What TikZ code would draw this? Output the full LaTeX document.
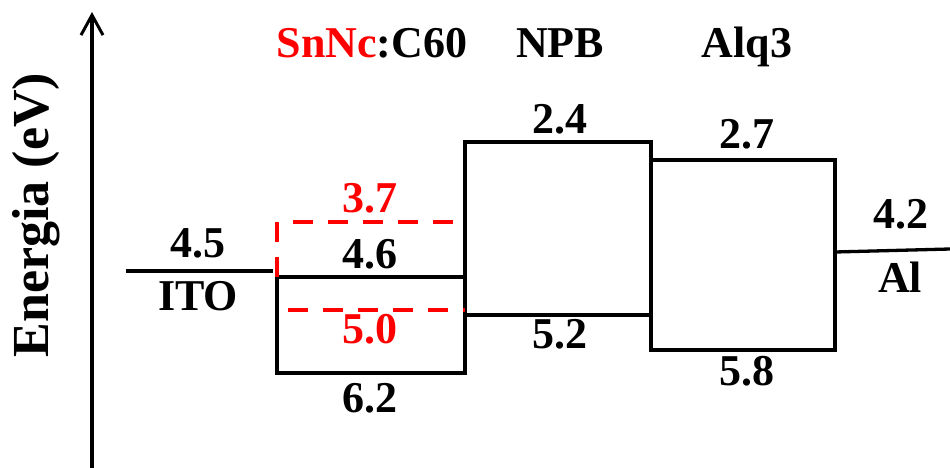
\documentclass[tikz,border=0pt]{standalone}
\usepackage{fontspec}
\setmainfont{Liberation Serif}
\usetikzlibrary{arrows.meta}
\definecolor{lvred}{RGB}{255,0,0}
\tikzset{
  lvl/.style={line width=3.8pt, line join=miter},
  thin lvl/.style={line width=3.3pt},
  redlvl/.style={line width=3.8pt, lvred, dash pattern=on 20pt off 15pt},
  lbl/.style={inner sep=0pt, anchor=base, font=\fontsize{44}{50}\selectfont\bfseries},
  redlbl/.style={lbl, text=lvred},
}
\begin{document}
\begin{tikzpicture}[x=1pt,y=-1pt]
\useasboundingbox (0,0) rectangle (950,468);
% axis
\coordinate (axb) at (92,468);
\coordinate (axt) at (92,12);
\draw[line width=3.2pt, -{Straight Barb[length=20pt,width=22pt,line width=3pt]}] (axb) -- (axt);
\node[inner sep=0pt, anchor=base, rotate=90, font=\fontsize{52}{58}\selectfont\bfseries] (ylab) at (48,215) {Energia (eV)};
% ITO
\coordinate (ito1) at (126,271);
\coordinate (ito2) at (273,271);
\draw[thin lvl] (ito1) -- (ito2);
% SnNc:C60 box
\coordinate (s1) at (277,277);
\coordinate (s2) at (465,373);
\draw[lvl] (s1) rectangle (s2);
% red dashed levels
\coordinate (r1) at (277,222);
\coordinate (r2) at (293,222);
\coordinate (r3) at (465,222);
\coordinate (r4) at (288,310);
\coordinate (r5) at (465,310);
\draw[redlvl] (r1) -- (s1);
\draw[redlvl] (r2) -- (r3);
\draw[redlvl] (r4) -- (r5);
% NPB
\coordinate (n1) at (465,142);
\coordinate (n2) at (651,142);
\coordinate (n3) at (651,160);
\coordinate (n4) at (465,315);
\coordinate (n5) at (651,315);
\draw[lvl] (s2 |- s1) -- (n1) -- (n2) -- (n3);
\draw[lvl] (n4) -- (n5);
% Alq3
\coordinate (a1) at (651,160);
\coordinate (a2) at (835,350);
\draw[lvl] (a1) rectangle (a2);
% Al
\coordinate (al1) at (835,252);
\coordinate (al2) at (950,249);
\draw[thin lvl] (al1) -- (al2);
% labels
\node[lbl] (tsn) at (372,58) {\textcolor{lvred}{SnNc}:C60};
\node[lbl] (tnpb) at (560,58) {NPB};
\node[lbl] (talq) at (747,58) {Alq3};
\node[lbl] (t24) at (560,133) {2.4};
\node[lbl] (t27) at (747,148) {2.7};
\node[redlbl] (t37) at (370,212) {3.7};
\node[lbl] (t46) at (370,268) {4.6};
\node[redlbl] (t50) at (370,343) {5.0};
\node[lbl] (t52) at (560,348) {5.2};
\node[lbl] (t62) at (370,412) {6.2};
\node[lbl] (t58) at (747,385) {5.8};
\node[lbl] (t45) at (198,257) {4.5};
\node[lbl] (tito) at (198,310) {ITO};
\node[lbl] (t42) at (901,228) {4.2};
\node[lbl] (tal) at (900,292) {Al};
\end{tikzpicture}
\end{document}
